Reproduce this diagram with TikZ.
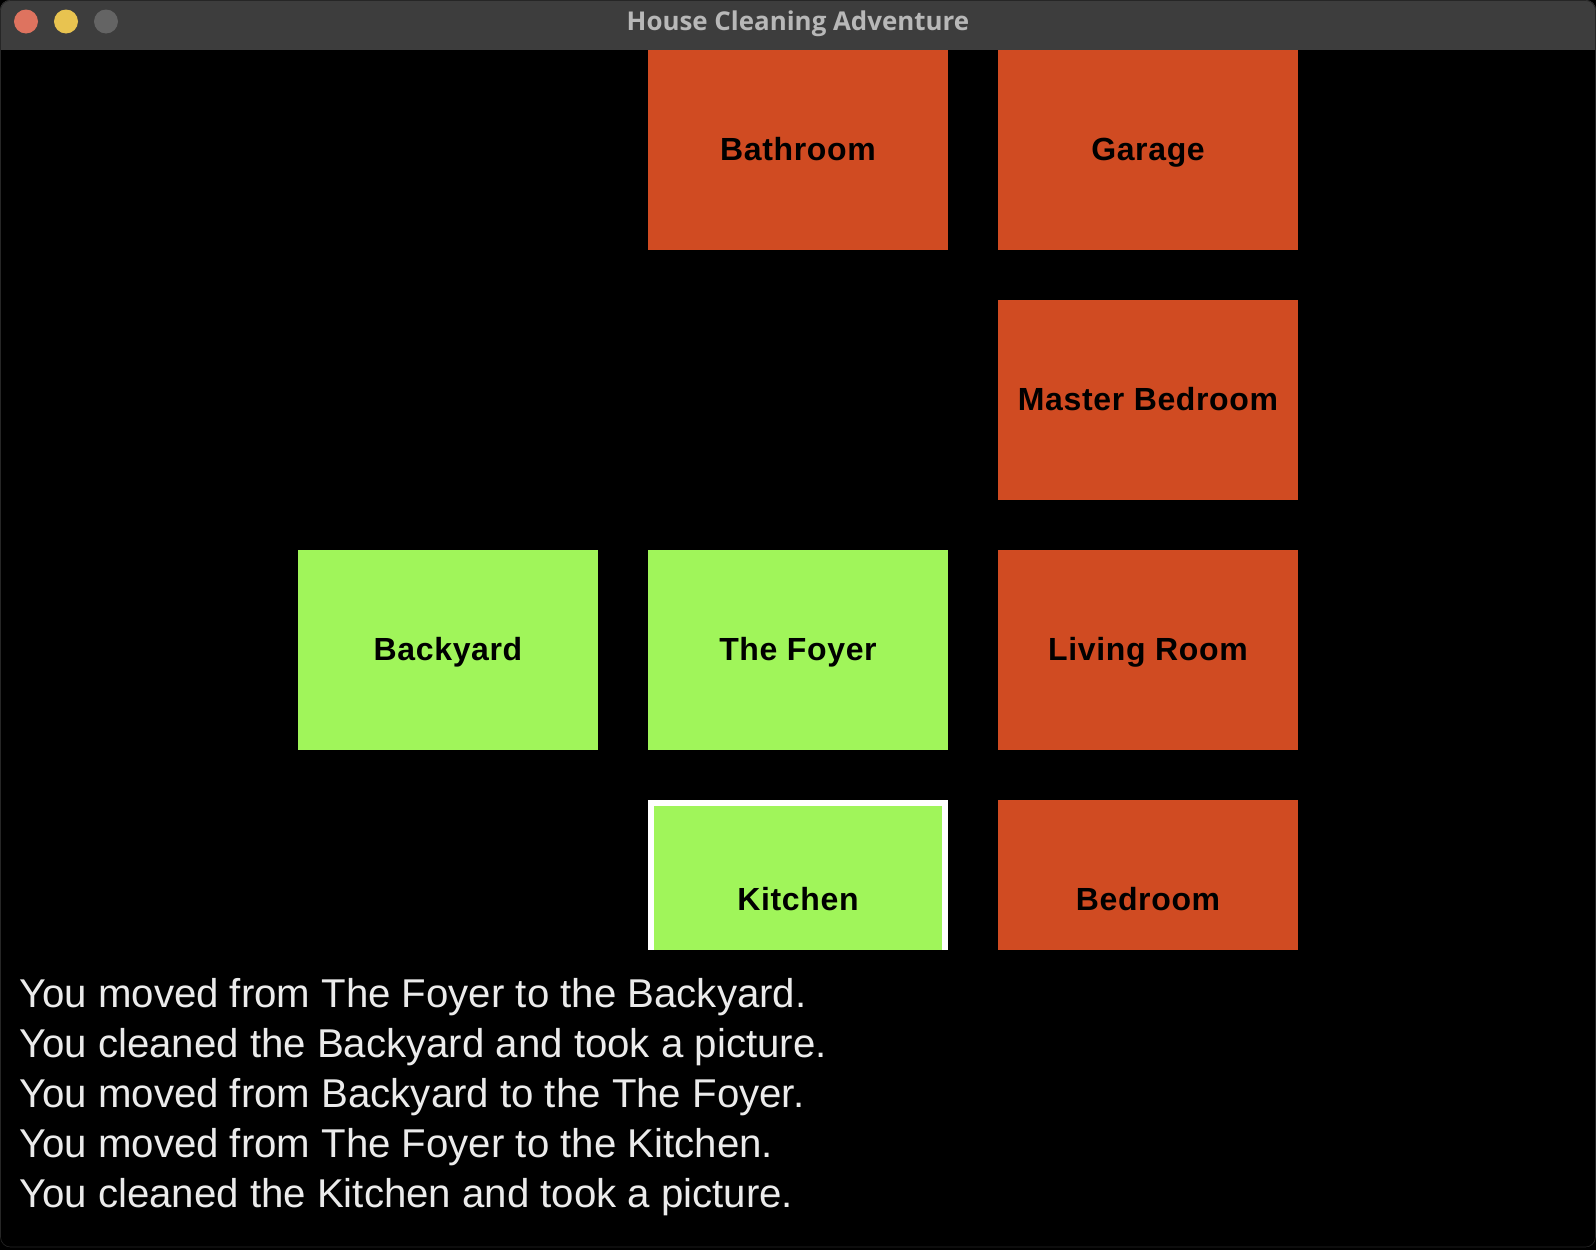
\documentclass[tikz,border=0pt]{standalone}
\usepackage{fontspec}
\setmainfont{Liberation Sans}
\newfontfamily\titlefont{Open Sans}
\newfontfamily\roomfont[LetterSpace=2]{Liberation Sans}
\definecolor{dirty}{HTML}{D04B22}
\definecolor{clean}{HTML}{A0F55A}
\definecolor{titlebar}{HTML}{3D3D3D}
\definecolor{titlegrey}{HTML}{B8B8B8}
\definecolor{lightred}{HTML}{DE735F}
\definecolor{lightyellow}{HTML}{E8C350}
\definecolor{lightgrey}{HTML}{646464}
\tikzset{
  room/.style={minimum width=300pt, minimum height=200pt, inner sep=0pt,
    text height=23pt, text depth=3pt, text=black,
    font=\roomfont\fontsize{32}{32}\selectfont\bfseries},
  dirtyroom/.style={room, fill=dirty},
  cleanroom/.style={room, fill=clean},
  logline/.style={anchor=base west, inner sep=0pt, text=white!92!black,
    font=\fontsize{40.2}{41}\selectfont},
  light/.style={circle, minimum size=24pt, inner sep=0pt}
}
\begin{document}
\begin{tikzpicture}[x=1pt,y=-1pt]
  \useasboundingbox[fill=black] (0,0) rectangle (1596,1250);
  % window and title bar
  \fill[black, rounded corners=10pt] (0,0) rectangle (1596,1247);
  \begin{scope}
    \clip[rounded corners=10pt] (0,0) rectangle (1596,1247);
    \fill[titlebar] (0,0) rectangle (1596,50);
  \end{scope}
  \node[light, fill=lightred] (close) at (26,21.5) {};
  \node[light, fill=lightyellow] (minimize) at (66,21.5) {};
  \node[light, fill=lightgrey] (zoom) at (106,21.5) {};
  \node[anchor=base, inner sep=0pt, text=titlegrey,
    font=\titlefont\bfseries\fontsize{25.9}{26}\selectfont] (title) at (798,30) {House Cleaning Adventure};
  % rooms
  \node[dirtyroom] (bathroom) at (798,150) {Bathroom};
  \node[dirtyroom] (garage) at (1148,150) {Garage};
  \node[dirtyroom] (masterbedroom) at (1148,400) {Master Bedroom};
  \node[cleanroom] (backyard) at (448,650) {Backyard};
  \node[cleanroom] (foyer) at (798,650) {The Foyer};
  \node[dirtyroom] (livingroom) at (1148,650) {Living Room};
  \node[cleanroom, draw=white, line width=6pt, minimum width=294pt, minimum height=194pt] (kitchen) at (798,900) {Kitchen};
  \node[dirtyroom] (bedroom) at (1148,900) {Bedroom};
  % message panel
  \fill[black] (2,950) rectangle (1594,1240);
  \node[logline] (log1) at (19,1007) {You moved from The Foyer to the Backyard.};
  \node[logline] (log2) at (19,1057) {You cleaned the Backyard and took a picture.};
  \node[logline] (log3) at (19,1107) {You moved from Backyard to the The Foyer.};
  \node[logline] (log4) at (19,1157) {You moved from The Foyer to the Kitchen.};
  \node[logline] (log5) at (19,1207) {You cleaned the Kitchen and took a picture.};
  \draw[gray!30!black, line width=0.6pt, rounded corners=10pt] (0.5,0.5) rectangle (1595.5,1247);
\end{tikzpicture}
\end{document}
